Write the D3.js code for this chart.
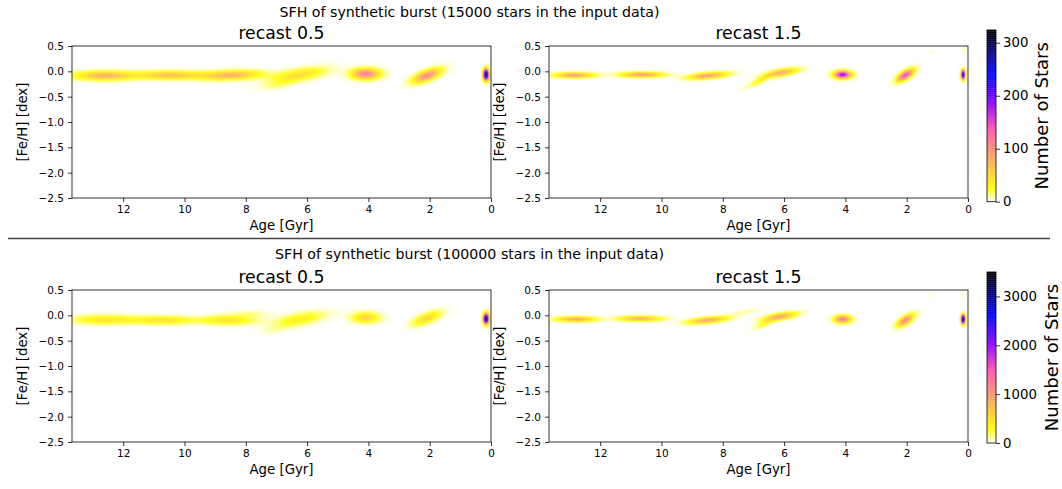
<!DOCTYPE html>
<html>
<head>
<meta charset="utf-8">
<script src="https://cdn.jsdelivr.net/npm/d3@7"></script>
<style>
  body { margin: 0; background: #fff; }
  svg { display: block; }
  text { font-family: "DejaVu Sans", sans-serif; fill: #000; }
</style>
</head>
<body>
<svg id="fig" width="1062" height="489"></svg>
<script>
// ---------- axis ticks and labels ----------
const ageTicks = [12, 10, 8, 6, 4, 2, 0];
const fehTicks = [0.5, 0.0, -0.5, -1.0, -1.5, -2.0, -2.5];
const ageDomain = [13.67, 0];
const fehDomain = [-2.5, 0.5];
const cbTicksTop = [0, 100, 200, 300];
const cbTicksBottom = [0, 1000, 2000, 3000];
const vmaxTop = 324;
const vmaxBottom = 3500;
const suptitleTop = "SFH of synthetic burst (15000 stars in the input data)";
const suptitleBottom = "SFH of synthetic burst (100000 stars in the input data)";
const panelTitles = ["recast 0.5", "recast 1.5"];

// ---------- burst components per panel (age Gyr, [Fe/H], widths, tilt, peak count) ----------
// 15000 stars, recast 0.5
const tlAge   = [12.6, 10.5, 8.5, 6.3, 7.0, 4.1, 2.1, 0.17];
const tlFeh   = [-0.08, -0.07, -0.07, -0.07, -0.27, -0.045, -0.08, -0.06];
const tlSAge  = [0.65, 0.7, 0.65, 0.6, 0.35, 0.3, 0.3, 0.06];
const tlSFeh  = [0.06, 0.055, 0.06, 0.08, 0.05, 0.07, 0.07, 0.075];
const tlTilt  = [0, 0, -0.02, -0.1, -0.1, 0, -0.2, 0];
const tlPeak  = [80, 70, 80, 50, 12, 120, 110, 324];

// 15000 stars, recast 1.5
const trAge   = [12.85, 10.65, 8.5, 6.1, 6.75, 7.1, 4.1, 2.05, 0.17, 1.18, 0.14];
const trFeh   = [-0.07, -0.06, -0.08, -0.02, -0.16, -0.28, -0.06, -0.07, -0.06, 0.38, 0.42];
const trSAge  = [0.42, 0.45, 0.42, 0.35, 0.22, 0.2, 0.18, 0.18, 0.045, 0.05, 0.04];
const trSFeh  = [0.035, 0.035, 0.04, 0.045, 0.04, 0.03, 0.05, 0.06, 0.06, 0.03, 0.06];
const trTilt  = [0, 0, -0.05, -0.1, -0.25, -0.2, 0, -0.3, 0, 0, 0];
const trPeak  = [95, 95, 95, 85, 35, 10, 195, 150, 290, 6, 6];

// 100000 stars, recast 0.5
const blAge   = [12.6, 10.7, 8.6, 7.9, 6.25, 7.0, 4.1, 2.1, 0.17];
const blFeh   = [-0.08, -0.09, -0.09, 0.03, -0.07, -0.27, -0.04, -0.05, -0.06];
const blSAge  = [0.7, 0.65, 0.6, 0.4, 0.55, 0.35, 0.3, 0.3, 0.06];
const blSFeh  = [0.06, 0.055, 0.06, 0.04, 0.08, 0.05, 0.07, 0.07, 0.07];
const blTilt  = [0, 0, 0, 0, -0.1, -0.1, 0, -0.2, 0];
const blPeak  = [480, 500, 480, 150, 400, 80, 620, 600, 3400];

// 100000 stars, recast 1.5
const brAge   = [12.8, 10.7, 8.5, 7.3, 6.15, 6.65, 4.1, 2.05, 0.17, 1.17, 0.14];
const brFeh   = [-0.07, -0.06, -0.09, 0.07, -0.02, -0.16, -0.07, -0.09, -0.07, 0.39, 0.42];
const brSAge  = [0.42, 0.45, 0.42, 0.35, 0.35, 0.22, 0.18, 0.18, 0.045, 0.05, 0.04];
const brSFeh  = [0.035, 0.035, 0.04, 0.03, 0.045, 0.04, 0.05, 0.06, 0.06, 0.03, 0.06];
const brTilt  = [0, 0, -0.06, -0.1, -0.1, -0.25, 0, -0.3, 0, 0, 0];
const brPeak  = [950, 900, 950, 120, 950, 300, 1300, 1200, 3500, 60, 60];

// ---------- colour map (gnuplot2, reversed) ----------
function clamp01(t) { return Math.max(0, Math.min(1, t)); }
function gnuplot2r(v) {
  const x = 1 - clamp01(v);
  const r = clamp01(x / 0.32 - 0.78125);
  const g = clamp01(2 * x - 0.84);
  const b = clamp01(x < 0.25 ? 4 * x : (x < 0.92 ? -2 * x + 1.84 : x / 0.08 - 11.5));
  return d3.rgb(Math.round(r * 255), Math.round(g * 255), Math.round(b * 255)).formatHex();
}

const svg = d3.select("#fig");
const defs = svg.append("defs");

// binned star counts for one panel
function binCounts(c) {
  const da = 0.05, df = 0.02;
  const cells = [];
  for (let i = 0; i * da < ageDomain[0]; i++) {
    const a0 = i * da, ac = a0 + da / 2;
    for (let j = 0; j < 60; j++) {
      const f0 = -0.64 + j * df, fc = f0 + df / 2;
      let n = 0;
      for (let k = 0; k < c.age.length; k++) {
        const dA = (ac - c.age[k]) / c.sAge[k];
        const dF = (fc - (c.feh[k] + c.tilt[k] * (ac - c.age[k]))) / c.sFeh[k];
        n += c.peak[k] * Math.exp(-0.5 * (dA * dA + dF * dF));
      }
      n = Math.round(n);
      if (n >= 1) cells.push({ a0, a1: a0 + da, f0, f1: f0 + df, n });
    }
  }
  return cells;
}

let clipId = 0;
function drawPanel(x0, y0, w, h, title, comp, vmax) {
  const g = svg.append("g").attr("transform", `translate(${x0},${y0})`);
  const x = d3.scaleLinear().domain(ageDomain).range([0, w]);
  const y = d3.scaleLinear().domain(fehDomain).range([h, 0]);
  const id = "clip" + (clipId++);
  defs.append("clipPath").attr("id", id).append("rect").attr("width", w).attr("height", h);

  const cells = binCounts(comp);
  g.append("g").attr("clip-path", `url(#${id})`)
    .selectAll("rect").data(cells).join("rect")
    .attr("x", d => x(d.a1))
    .attr("y", d => y(d.f1))
    .attr("width", d => x(d.a0) - x(d.a1) + 0.25)
    .attr("height", d => y(d.f0) - y(d.f1) + 0.25)
    .attr("fill", d => gnuplot2r(d.n / vmax));

  const xa = g.append("g").attr("transform", `translate(0,${h})`)
    .call(d3.axisBottom(x).tickValues(ageTicks).tickFormat(d3.format("d")).tickSize(4).tickSizeOuter(0).tickPadding(4));
  const ya = g.append("g")
    .call(d3.axisLeft(y).tickValues(fehTicks).tickFormat(d3.format(".1f")).tickSize(4).tickSizeOuter(0).tickPadding(4));
  [xa, ya].forEach(a => {
    a.select(".domain").remove();
    a.selectAll("line").attr("stroke", "#000").attr("stroke-width", 0.8);
    a.selectAll("text").attr("font-size", "10.5px").attr("font-family", '"DejaVu Sans", sans-serif').attr("fill", "#000");
  });

  g.append("rect").attr("width", w).attr("height", h)
    .attr("fill", "none").attr("stroke", "#000").attr("stroke-width", 0.8);

  g.append("text").attr("x", w / 2).attr("y", -7).attr("text-anchor", "middle")
    .attr("font-size", "17.3px").text(title);
  g.append("text").attr("x", w / 2).attr("y", h + 32).attr("text-anchor", "middle")
    .attr("font-size", "13.3px").text("Age [Gyr]");
  g.append("text").attr("transform", `translate(-45,${h / 2}) rotate(-90)`)
    .attr("text-anchor", "middle").attr("font-size", "13.3px").text("[Fe/H] [dex]");
}

function drawColorbar(x0, y0, w, h, vmax, ticks, labelOffset) {
  const g = svg.append("g").attr("transform", `translate(${x0},${y0})`);
  const s = d3.scaleLinear().domain([0, vmax]).range([h, 0]);
  const steps = d3.range(0, 256);
  g.selectAll("rect.band").data(steps).join("rect")
    .attr("x", 0).attr("width", w)
    .attr("y", d => s((d + 1) / 256 * vmax))
    .attr("height", d => s(d / 256 * vmax) - s((d + 1) / 256 * vmax) + 0.3)
    .attr("fill", d => gnuplot2r((d + 0.5) / 256));
  g.append("rect").attr("width", w).attr("height", h)
    .attr("fill", "none").attr("stroke", "#000").attr("stroke-width", 0.8);
  const ax = g.append("g").attr("transform", `translate(${w},0)`)
    .call(d3.axisRight(s).tickValues(ticks).tickFormat(d3.format("d")).tickSize(4).tickSizeOuter(0).tickPadding(3));
  ax.select(".domain").remove();
  ax.selectAll("line").attr("stroke", "#000").attr("stroke-width", 0.8);
  ax.selectAll("text").attr("font-size", "13.3px").attr("font-family", '"DejaVu Sans", sans-serif').attr("fill", "#000");
  g.append("text").attr("transform", `translate(${w + labelOffset},${h / 2}) rotate(-90)`)
    .attr("text-anchor", "middle").attr("font-size", "18px").text("Number of Stars");
}

const panelW = 419, panelH = 152;
const colX = [72, 549];
const rowY = [46, 290];

// top block
svg.append("text").attr("x", 469.5).attr("y", 17).attr("text-anchor", "middle")
  .attr("font-size", "14.2px").text(suptitleTop);
drawPanel(colX[0], rowY[0], panelW, panelH, panelTitles[0],
  { age: tlAge, feh: tlFeh, sAge: tlSAge, sFeh: tlSFeh, tilt: tlTilt, peak: tlPeak }, vmaxTop);
drawPanel(colX[1], rowY[0], panelW, panelH, panelTitles[1],
  { age: trAge, feh: trFeh, sAge: trSAge, sFeh: trSFeh, tilt: trTilt, peak: trPeak }, vmaxTop);
drawColorbar(987, 30, 9, 171.7, vmaxTop, cbTicksTop, 52);

// separator
svg.append("line").attr("x1", 8).attr("x2", 1050).attr("y1", 238.5).attr("y2", 238.5)
  .attr("stroke", "#444").attr("stroke-width", 1.3);

// bottom block
svg.append("text").attr("x", 469.5).attr("y", 259).attr("text-anchor", "middle")
  .attr("font-size", "14.2px").text(suptitleBottom);
drawPanel(colX[0], rowY[1], panelW, panelH, panelTitles[0],
  { age: blAge, feh: blFeh, sAge: blSAge, sFeh: blSFeh, tilt: blTilt, peak: blPeak }, vmaxBottom);
drawPanel(colX[1], rowY[1], panelW, panelH, panelTitles[1],
  { age: brAge, feh: brFeh, sAge: brSAge, sFeh: brSFeh, tilt: brTilt, peak: brPeak }, vmaxBottom);
drawColorbar(987, 272, 9, 171, vmaxBottom, cbTicksBottom, 62);
</script>
</body>
</html>
